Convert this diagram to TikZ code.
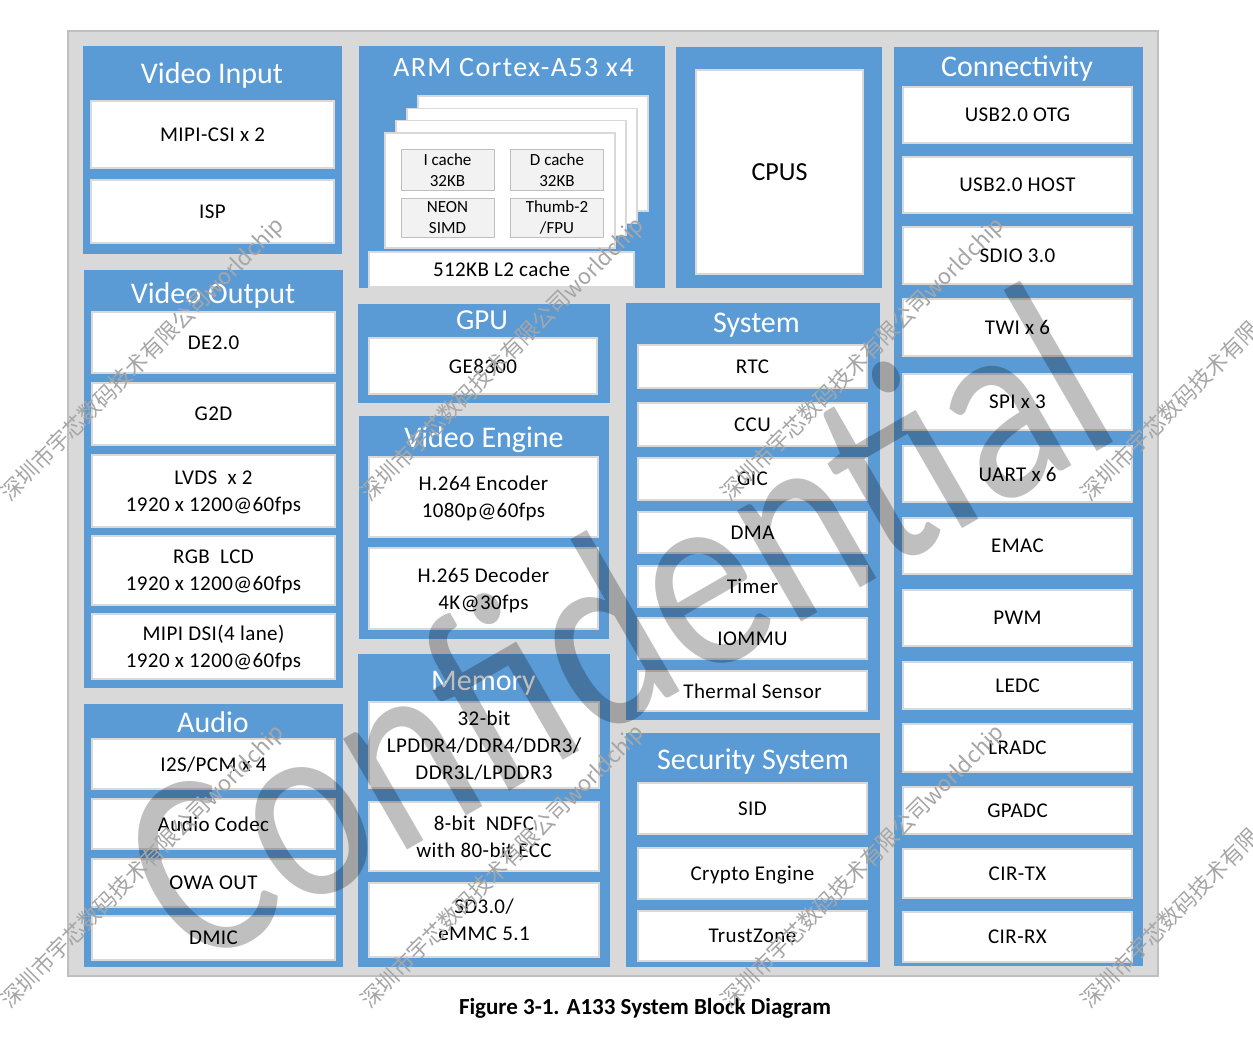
\documentclass[tikz,border=0pt]{standalone}
\usepackage{fontspec}
\setmainfont{Carlito}
\newfontfamily\cjkfont{Noto Sans CJK SC}
\usepackage{xcolor}
\usepackage{tikz}

\definecolor{panelblue}{HTML}{5B9BD5}
\definecolor{framegray}{HTML}{D9D9D9}
\definecolor{edgegray}{HTML}{BFBFBF}
\definecolor{cellgray}{HTML}{F2F2F2}

\begin{document}
\begin{tikzpicture}[x=1pt,y=-1pt,
  frame/.style={draw=edgegray,fill=framegray,line width=1.5pt,inner sep=0pt},
  panel/.style={draw=edgegray!60,fill=panelblue,line width=1pt,inner sep=0pt},
  title/.style={anchor=base,text=white,inner sep=0pt,font=\fontsize{30}{36}\selectfont},
  box/.style={draw=framegray,fill=white,line width=1.5pt,inner sep=0pt,align=center,text depth=0pt,font=\fontsize{21}{27}\selectfont\addfontfeature{LetterSpace=2}},
  card/.style={draw=framegray,fill=white,line width=1.5pt,inner sep=0pt,minimum width=230pt,minimum height=115pt},
  cell/.style={draw=edgegray,fill=cellgray,line width=1pt,inner sep=0pt,align=center,minimum width=93pt,text depth=0pt,font=\fontsize{17}{21}\selectfont},
  vin/.style={box,minimum width=243pt},
  ve/.style={box,minimum width=229pt},
  sys/.style={box,minimum width=229pt},
  con/.style={box,minimum width=229pt},
  wmark/.style={inner sep=0pt,rotate=45,text=black!35,font=\cjkfont\fontsize{22}{22}\selectfont}
]
\useasboundingbox (0,0) rectangle (1253,1038);
\node[frame,minimum width=1090pt,minimum height=945pt] (frame) at (613,503.5) {};

% video input
\node[panel,minimum width=260pt,minimum height=208pt] (pvin) at (212,150) {};
\node[title] (tvin) at (212,84) {Video Input};
\node[vin,minimum height=67pt] (mipicsi) at (212.5,134.5) {MIPI-CSI x 2};
\node[vin,minimum height=63pt] (isp) at (212.5,211.5) {ISP};

% video output
\node[panel,minimum width=260pt,minimum height=419pt] (pvout) at (213,478.5) {};
\node[title] (tvout) at (213,303) {Video Output};
\node[vin,minimum height=61pt] (de) at (213.5,342.5) {DE2.0};
\node[vin,minimum height=62pt] (gtwod) at (213.5,414) {G2D};
\node[vin,minimum height=72pt] (lvds) at (213.5,491) {LVDS\ \ x 2\\1920 x 1200@60fps};
\node[vin,minimum height=69pt] (rgb) at (213.5,570.5) {RGB\ \ LCD\\1920 x 1200@60fps};
\node[vin,minimum height=65pt] (dsi) at (213.5,646.5) {MIPI DSI(4 lane)\\1920 x 1200@60fps};

% audio
\node[panel,minimum width=260pt,minimum height=264pt] (paudio) at (213,835) {};
\node[title] (taudio) at (213,732) {Audio};
\node[vin,minimum height=50pt] (iis) at (213.5,764) {I2S/PCM x 4};
\node[vin,minimum height=50pt] (codec) at (213.5,824) {Audio Codec};
\node[vin,minimum height=48pt] (owa) at (213.5,883) {OWA OUT};
\node[vin,minimum height=44pt] (dmic) at (213.5,938) {DMIC};

% arm cluster
\node[panel,minimum width=307pt,minimum height=242pt] (parm) at (511.5,167) {};
\node[title,font=\fontsize{28}{34}\selectfont\addfontfeature{LetterSpace=5}] (tarm) at (513.5,77) {ARM Cortex-A53 x4};
\node[card] (core4) at (533,153.6) {};
\node[card] (core3) at (522,165.9) {};
\node[card] (core2) at (511,178.2) {};
\node[card] (core1) at (500,190.5) {};
\node[cell,minimum height=40pt] (icache) at (447.5,170) {I cache\\32KB};
\node[cell,minimum height=40pt] (dcache) at (557,170) {D cache\\32KB};
\node[cell,minimum height=39pt] (neon) at (447.5,217.5) {NEON\\SIMD};
\node[cell,minimum height=39pt] (thumb) at (557,217.5) {Thumb-2\\/FPU};
\node[box,minimum width=265pt,minimum height=35pt] (ltwo) at (501.5,269.5) {512KB L2 cache};

% cpus
\node[panel,minimum width=207pt,minimum height=241pt] (pcpus) at (778.5,167.5) {};
\node[box,minimum width=167pt,minimum height=204pt,font=\fontsize{26}{30}\selectfont] (cpus) at (779.5,172) {CPUS};

% gpu
\node[panel,minimum width=253pt,minimum height=100pt] (pgpu) at (483.5,353) {};
\node[title,font=\fontsize{29}{34}\selectfont] (tgpu) at (482,329) {GPU};
\node[box,minimum width=228pt,minimum height=56pt] (ge) at (483,366) {GE8300};

% video engine
\node[panel,minimum width=251pt,minimum height=224pt] (pve) at (483.5,527) {};
\node[title] (tve) at (484,447) {Video Engine};
\node[ve,minimum height=80pt] (enc) at (483.5,497) {H.264 Encoder\\1080p@60fps};
\node[ve,minimum height=81pt] (dec) at (483.5,588.5) {H.265 Decoder\\4K@30fps};

% memory
\node[panel,minimum width=253pt,minimum height=314pt] (pmem) at (483.5,810) {};
\node[title] (tmem) at (483.5,690) {Memory};
\node[box,minimum width=230pt,minimum height=86pt] (ddr) at (484,745) {32-bit\\LPDDR4/DDR4/DDR3/\\DDR3L/LPDDR3};
\node[box,minimum width=230pt,minimum height=69pt] (ndfc) at (484,836.5) {8-bit\ \ NDFC\\with 80-bit ECC};
\node[box,minimum width=230pt,minimum height=74pt] (sdmmc) at (484,920) {SD3.0/\\eMMC 5.1};

% system
\node[panel,minimum width=255pt,minimum height=418pt] (psys) at (752.5,511) {};
\node[title] (tsys) at (756.5,332) {System};
\node[sys,minimum height=43pt] (rtc) at (752.5,366.5) {RTC};
\node[sys,minimum height=43pt] (ccu) at (752.5,424.5) {CCU};
\node[sys,minimum height=42pt] (gic) at (752.5,479) {GIC};
\node[sys,minimum height=41pt] (dma) at (752.5,532.5) {DMA};
\node[sys,minimum height=41pt] (timer) at (752.5,586.5) {Timer};
\node[sys,minimum height=41pt] (iommu) at (752.5,638.5) {IOMMU};
\node[sys,minimum height=40pt] (thermal) at (752.5,691) {Thermal Sensor};

% security
\node[panel,minimum width=255pt,minimum height=235pt] (psec) at (752.5,849.5) {};
\node[title] (tsec) at (753,769) {Security System};
\node[sys,minimum height=51pt] (sid) at (752.5,808.5) {SID};
\node[sys,minimum height=51pt] (crypto) at (752.5,873.5) {Crypto Engine};
\node[sys,minimum height=50pt] (trust) at (752.5,936) {TrustZone};

% connectivity
\node[panel,minimum width=250pt,minimum height=919pt] (pcon) at (1018,506.5) {};
\node[title] (tcon) at (1017,77) {Connectivity};
\node[con,minimum height=56pt] (otg) at (1017.5,115) {USB2.0 OTG};
\node[con,minimum height=56pt] (host) at (1017.5,185) {USB2.0 HOST};
\node[con,minimum height=57pt] (sdio) at (1017.5,255.5) {SDIO 3.0};
\node[con,minimum height=57pt] (twi) at (1017.5,327.5) {TWI x 6};
\node[con,minimum height=56pt] (spi) at (1017.5,402) {SPI x 3};
\node[con,minimum height=56pt] (uart) at (1017.5,474) {UART x 6};
\node[con,minimum height=56pt] (emac) at (1017.5,546) {EMAC};
\node[con,minimum height=56pt] (pwm) at (1017.5,618) {PWM};
\node[con,minimum height=47pt] (ledc) at (1017.5,685.5) {LEDC};
\node[con,minimum height=48pt] (lradc) at (1017.5,748) {LRADC};
\node[con,minimum height=47pt] (gpadc) at (1017.5,810.5) {GPADC};
\node[con,minimum height=49pt] (cirtx) at (1017.5,873.5) {CIR-TX};
\node[con,minimum height=50pt] (cirrx) at (1017.5,937) {CIR-RX};

\node[anchor=base,inner sep=0pt,font=\bfseries\fontsize{23}{27}\selectfont] (caption) at (645,1014) {Figure 3-1. A133 System Block Diagram};

% watermarks
\begin{scope}
\clip (0,0) rectangle (1253,1038);
\node[inner sep=0pt,rotate=30,xscale=0.82,text=black,opacity=0.25,font=\fontsize{268}{268}\selectfont] (conf) at (614,624) {Confidential};
\node[wmark] (wma) at (143,360) {深圳市宇芯数码技术有限公司worldchip};
\node[wmark] (wmb) at (503,360) {深圳市宇芯数码技术有限公司worldchip};
\node[wmark] (wmc) at (863,360) {深圳市宇芯数码技术有限公司worldchip};
\node[wmark] (wmd) at (1223,360) {深圳市宇芯数码技术有限公司worldchip};
\node[wmark] (wme) at (143,867) {深圳市宇芯数码技术有限公司worldchip};
\node[wmark] (wmf) at (503,867) {深圳市宇芯数码技术有限公司worldchip};
\node[wmark] (wmg) at (863,867) {深圳市宇芯数码技术有限公司worldchip};
\node[wmark] (wmh) at (1223,867) {深圳市宇芯数码技术有限公司worldchip};
\end{scope}
\end{tikzpicture}
\end{document}
